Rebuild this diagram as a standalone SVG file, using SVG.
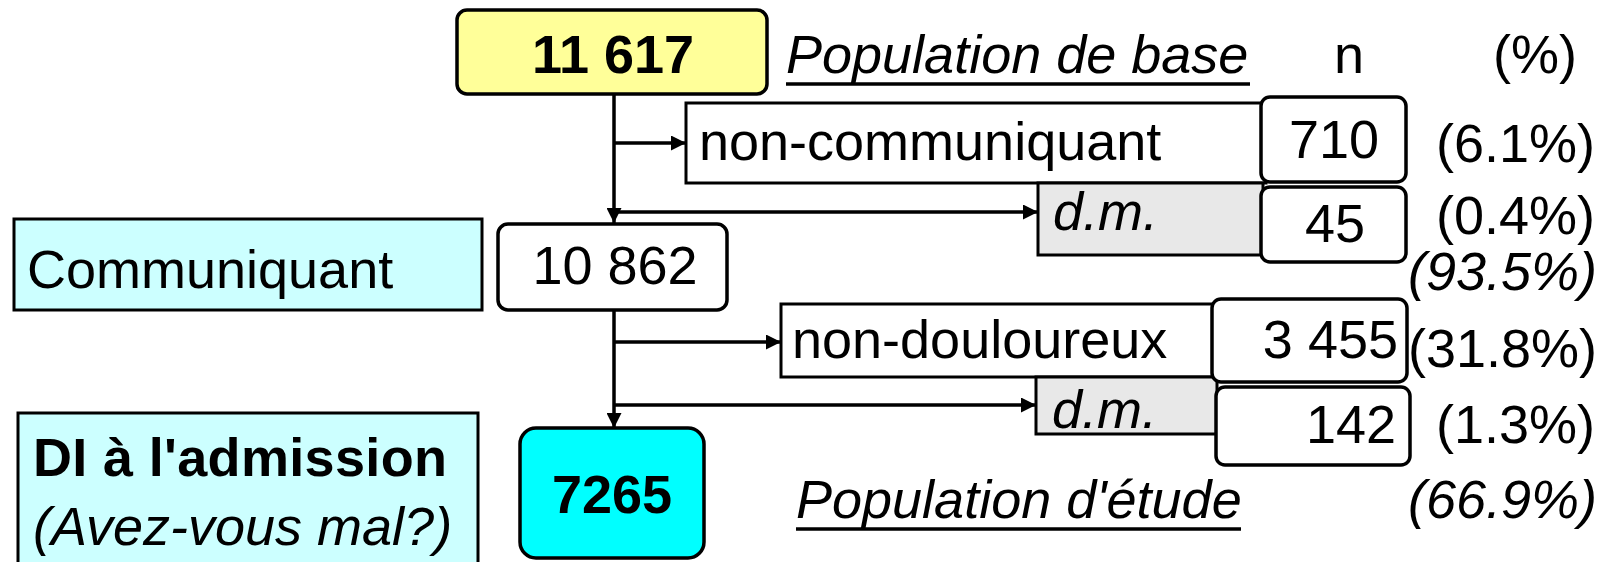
<svg xmlns="http://www.w3.org/2000/svg" width="1608" height="562" viewBox="0 0 1608 562">
<style>
text{font-family:"Liberation Sans",Arial,sans-serif;font-size:54px;fill:#000}
.b{font-weight:bold}
.i{font-style:italic}
.m{text-anchor:middle}
.e{text-anchor:end}
.box{stroke:#000;stroke-width:3.5}
.sq{stroke:#000;stroke-width:3}
.con{stroke:#000;stroke-width:3.5;fill:none}
.ul{stroke:#000;stroke-width:3.5}
</style>
<defs>
<marker id="ah" markerUnits="userSpaceOnUse" markerWidth="15" markerHeight="15" refX="15" refY="7.5" orient="auto">
<path d="M0,0 L15,7.5 L0,15 z" fill="#000"/>
</marker>
</defs>
<rect width="1608" height="562" fill="#fff"/>

<g id="connectors">
<line class="con" x1="614" y1="94" x2="614" y2="223" marker-end="url(#ah)"/>
<line class="con" x1="614" y1="143" x2="686" y2="143" marker-end="url(#ah)"/>
<line class="con" x1="614" y1="212" x2="1038" y2="212" marker-end="url(#ah)"/>
<line class="con" x1="614" y1="310" x2="614" y2="428" marker-end="url(#ah)"/>
<line class="con" x1="614" y1="342" x2="781" y2="342" marker-end="url(#ah)"/>
<line class="con" x1="614" y1="405" x2="1036" y2="405" marker-end="url(#ah)"/>
</g>

<g id="base">
<rect class="box" x="457" y="10" width="310" height="84" rx="10" fill="#ffff99"/>
<text class="b m" x="613" y="73">11 617</text>
</g>

<g id="header">
<text class="i" x="786" y="73">Population de base</text>
<line class="ul" x1="786" y1="84" x2="1250" y2="84"/>
<text class="m" x="1349" y="73">n</text>
<text class="m" x="1535" y="73">(%)</text>
</g>

<g id="noncomm">
<rect class="sq" x="686" y="103" width="580" height="80" fill="#fff"/>
<text x="699" y="160">non-communiquant</text>
</g>

<g id="dm1">
<rect class="sq" x="1038" y="183" width="225" height="72" fill="#e8e8e8"/>
<text class="i" x="1053" y="230">d.m.</text>
</g>

<g id="n710">
<rect class="box" x="1261" y="97" width="145" height="85" rx="9" fill="#fff"/>
<text class="m" x="1334" y="158">710</text>
<text class="e" x="1595" y="162">(6.1%)</text>
</g>

<g id="n45">
<rect class="box" x="1261" y="187" width="145" height="75" rx="9" fill="#fff"/>
<text class="m" x="1335" y="242">45</text>
<text class="e" x="1595" y="234">(0.4%)</text>
</g>

<g id="pct935">
<text class="i e" x="1597" y="290">(93.5%)</text>
</g>

<g id="communiquant">
<rect class="sq" x="14" y="219" width="468" height="91" fill="#ccffff"/>
<text x="27" y="288">Communiquant</text>
</g>

<g id="n10862">
<rect class="box" x="498" y="224" width="229" height="86" rx="10" fill="#fff"/>
<text class="m" x="615" y="284">10 862</text>
</g>

<g id="nondoul">
<rect class="sq" x="781" y="304" width="436" height="73" fill="#fff"/>
<text x="792" y="358">non-douloureux</text>
</g>

<g id="dm2">
<rect class="sq" x="1036" y="377" width="181" height="57" fill="#e8e8e8"/>
<text class="i" x="1052" y="428">d.m.</text>
</g>

<g id="n3455">
<rect class="box" x="1212" y="299" width="195" height="83" rx="9" fill="#fff"/>
<text class="e" x="1398" y="358">3 455</text>
<text class="e" x="1597" y="367">(31.8%)</text>
</g>

<g id="n142">
<rect class="box" x="1216" y="387" width="194" height="78" rx="9" fill="#fff"/>
<text class="e" x="1396" y="443">142</text>
<text class="e" x="1595" y="443">(1.3%)</text>
</g>

<g id="di">
<rect class="sq" x="18" y="413" width="460" height="165" fill="#ccffff"/>
<text class="b" x="33" y="476" textLength="414" lengthAdjust="spacing">DI à l'admission</text>
<text class="i" x="33" y="545">(Avez-vous mal?)</text>
</g>

<g id="n7265">
<rect class="box" x="520" y="428" width="184" height="130" rx="16" fill="#00ffff"/>
<text class="b m" x="612" y="513">7265</text>
</g>

<g id="etude">
<text class="i" x="796" y="518">Population d'étude</text>
<line class="ul" x1="796" y1="529" x2="1241" y2="529"/>
<text class="i e" x="1597" y="518">(66.9%)</text>
</g>
</svg>
